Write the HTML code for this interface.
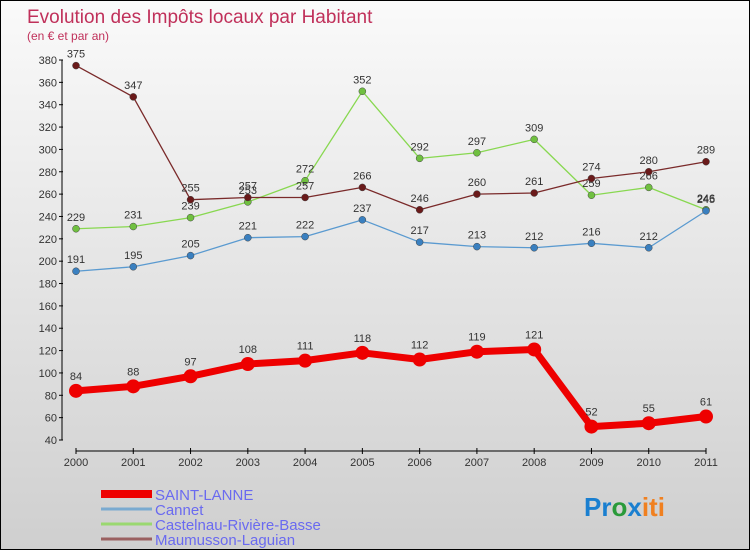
<!DOCTYPE html>
<html><head><meta charset="utf-8"><style>
body{margin:0}
#wrap{position:relative;width:748px;height:548px;border:1px solid #000;background:linear-gradient(#fafafa,#cfcfcf);font-family:"Liberation Sans",sans-serif;overflow:hidden}
text{font-family:"Liberation Sans",sans-serif}
</style></head><body>
<div id="wrap">
<svg id="chart" width="748" height="548">
<text x="26" y="22" font-size="19" fill="#c0305a">Evolution des Impôts locaux par Habitant</text>
<text x="26" y="39" font-size="12" fill="#c0305a">(en € et par an)</text>
<g id="axes"></g><g id="series"></g><g id="legend"></g>
<text x="583" y="515" font-size="26" font-weight="bold"><tspan fill="#1a7fd0">Pr</tspan><tspan fill="#2a9a3a">o</tspan><tspan fill="#1a7fd0">x</tspan><tspan fill="#f08020">iti</tspan></text>
</svg></div>
<script>
const years=["2000","2001","2002","2003","2004","2005","2006","2007","2008","2009","2010","2011"];
const yTicks=[40,60,80,100,120,140,160,180,200,220,240,260,280,300,320,340,360,380];
const seriesNames=["SAINT-LANNE","Cannet","Castelnau-Rivière-Basse","Maumusson-Laguian"];
const saintLanne=[84,88,97,108,111,118,112,119,121,52,55,61];
const cannet=[191,195,205,221,222,237,217,213,212,216,212,245];
const castelnau=[229,231,239,253,272,352,292,297,309,259,266,246];
const maumusson=[375,347,255,257,257,266,246,260,261,274,280,289];
const NS="http://www.w3.org/2000/svg";
const xOf=i=>75+i*(630/11);
const yOf=v=>439-(v-40)*(380/340);
function mk(tag,attrs,parent){const e=document.createElementNS(NS,tag);for(const k in attrs)e.setAttribute(k,attrs[k]);parent.appendChild(e);return e;}
const ax=document.getElementById('axes');
let l=mk('line',{x1:61,y1:yOf(380),x2:61,y2:yOf(40),stroke:'#000'},ax);


yTicks.forEach(v=>{
 const t=mk('line',{x1:58,x2:62,y1:yOf(v),y2:yOf(v),stroke:'#000'},ax);
 
 
 const tx=mk('text',{x:56,y:yOf(v)+4,'font-size':11,'text-anchor':'end',fill:'#333'},ax);tx.textContent=v;
 
 
});
l=mk('line',{x1:75,y1:450,x2:705,y2:450,stroke:'#000'},ax);


years.forEach((y,i)=>{
 const t=mk('line',{x1:xOf(i),x2:xOf(i),y1:447,y2:453,stroke:'#000'},ax);
 
 
 const tx=mk('text',{x:xOf(i),y:465,'font-size':11,'text-anchor':'middle',fill:'#333'},ax);tx.textContent=y;
 
 
});
const sg=document.getElementById('series');
const defs=[[castelnau,'#88d850','#70c040',1.3,3.5,'castelnau'],[cannet,'#5a9ad0','#3a80c0',1.3,3.5,'cannet'],[maumusson,'#7a2a2a','#6a1a1a',1.3,3.5,'maumusson'],[saintLanne,'#ee0000','#ee0000',7,7,'saint-lanne']];
defs.forEach(([d,lc,pc,w,r,nm])=>{
 const p=mk('polyline',{points:d.map((v,i)=>xOf(i)+','+yOf(v)).join(' '),fill:'none',stroke:lc,'stroke-width':w,'stroke-linejoin':'round'},sg);
 
 
 d.forEach((v,i)=>{
  const c=mk('circle',{cx:xOf(i),cy:yOf(v),r:r,fill:pc,stroke:r<5?'#444':'none','stroke-width':0.5},sg);
  
  
  const t=mk('text',{x:xOf(i),y:yOf(v)-(r<5?8:11),'font-size':11,'text-anchor':'middle',fill:'#333'},sg);t.textContent=v;
  
  
 });
});
const lg=document.getElementById('legend');
const lcol=['#ee0000','#7aaad0','#9ad870','#9a6060'],lw=[8,3,3,3];
seriesNames.forEach((n,i)=>{
 const y=493+i*15;
 const s=mk('line',{x1:100,x2:151,y1:y,y2:y,stroke:lcol[i],'stroke-width':lw[i]},lg);
 
 
 const t=mk('text',{x:154,y:y+6,'font-size':15,fill:'#6a6af0'},lg);t.textContent=n;
 
 
});
</script>
</body></html>
